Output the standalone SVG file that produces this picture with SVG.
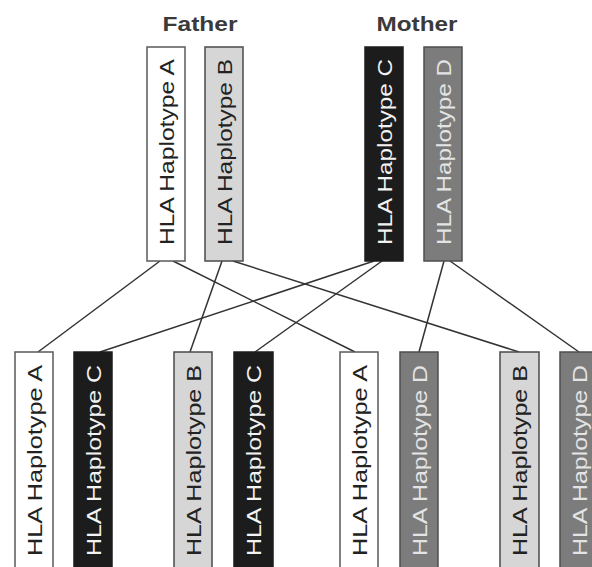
<svg xmlns="http://www.w3.org/2000/svg" width="592" height="567" viewBox="0 0 592 567">
<style>
.bg{fill:#ffffff}
.lbl{font-family:"Liberation Sans",Arial,sans-serif;font-weight:bold;font-size:20px;fill:#3a3a3a;text-anchor:middle}
.box{stroke-width:1.5}
.hA{fill:#ffffff;stroke:#5a5a5a}
.hB{fill:#d6d6d6;stroke:#4a4a4a}
.hC{fill:#1c1c1c;stroke:#1c1c1c}
.hD{fill:#7c7c7c;stroke:#4e4e4e}
.t{font-family:"Liberation Sans",Arial,sans-serif;font-size:20px}
.tb{font-size:21px}
.tdark{fill:#222222}
.tC{fill:#f2f2f2}
.tD{fill:#e4e4e4}
.conn line{stroke:#333333;stroke-width:1.5}
</style>
<rect class="bg" x="0" y="0" width="592" height="567"/>
<g id="label-father"><text class="lbl" x="200" y="31" textLength="75" lengthAdjust="spacingAndGlyphs">Father</text></g>
<g id="label-mother"><text class="lbl" x="417" y="31" textLength="81" lengthAdjust="spacingAndGlyphs">Mother</text></g>
<g class="conn" id="connectors">
<line x1="160" y1="261" x2="38" y2="352"/>
<line x1="173" y1="261" x2="355" y2="352"/>
<line x1="222" y1="261" x2="190" y2="352"/>
<line x1="233" y1="261" x2="519" y2="352"/>
<line x1="374" y1="261" x2="100" y2="352"/>
<line x1="382" y1="261" x2="255" y2="352"/>
<line x1="444" y1="261" x2="419" y2="352"/>
<line x1="450" y1="261" x2="579" y2="352"/>
</g>
<g id="father-A"><rect class="box hA" x="147" y="47" width="38" height="214"/><text class="t tdark" transform="translate(174,245) rotate(-90)" textLength="186" lengthAdjust="spacingAndGlyphs">HLA Haplotype A</text></g>
<g id="father-B"><rect class="box hB" x="205" y="47" width="38" height="214"/><text class="t tdark" transform="translate(232,245) rotate(-90)" textLength="186" lengthAdjust="spacingAndGlyphs">HLA Haplotype B</text></g>
<g id="mother-C"><rect class="box hC" x="365" y="47" width="38" height="214"/><text class="t tC" transform="translate(392,245) rotate(-90)" textLength="186" lengthAdjust="spacingAndGlyphs">HLA Haplotype C</text></g>
<g id="mother-D"><rect class="box hD" x="424" y="47" width="38" height="214"/><text class="t tD" transform="translate(451,245) rotate(-90)" textLength="186" lengthAdjust="spacingAndGlyphs">HLA Haplotype D</text></g>
<g id="child1-A"><rect class="box hA" x="15" y="352" width="38" height="230"/><text class="t tb tdark" transform="translate(42,556) rotate(-90)" textLength="191" lengthAdjust="spacingAndGlyphs">HLA Haplotype A</text></g>
<g id="child1-C"><rect class="box hC" x="74" y="352" width="38" height="230"/><text class="t tb tC" transform="translate(101,556) rotate(-90)" textLength="191" lengthAdjust="spacingAndGlyphs">HLA Haplotype C</text></g>
<g id="child2-B"><rect class="box hB" x="174" y="352" width="38" height="230"/><text class="t tb tdark" transform="translate(201,556) rotate(-90)" textLength="191" lengthAdjust="spacingAndGlyphs">HLA Haplotype B</text></g>
<g id="child2-C"><rect class="box hC" x="234" y="352" width="39" height="230"/><text class="t tb tC" transform="translate(261,556) rotate(-90)" textLength="191" lengthAdjust="spacingAndGlyphs">HLA Haplotype C</text></g>
<g id="child3-A"><rect class="box hA" x="340" y="352" width="38" height="230"/><text class="t tb tdark" transform="translate(367,556) rotate(-90)" textLength="191" lengthAdjust="spacingAndGlyphs">HLA Haplotype A</text></g>
<g id="child3-D"><rect class="box hD" x="400" y="352" width="38" height="230"/><text class="t tb tD" transform="translate(427,556) rotate(-90)" textLength="191" lengthAdjust="spacingAndGlyphs">HLA Haplotype D</text></g>
<g id="child4-B"><rect class="box hB" x="500" y="352" width="39" height="230"/><text class="t tb tdark" transform="translate(527,556) rotate(-90)" textLength="191" lengthAdjust="spacingAndGlyphs">HLA Haplotype B</text></g>
<g id="child4-D"><rect class="box hD" x="560" y="352" width="39" height="230"/><text class="t tb tD" transform="translate(587,556) rotate(-90)" textLength="191" lengthAdjust="spacingAndGlyphs">HLA Haplotype D</text></g>
</svg>
